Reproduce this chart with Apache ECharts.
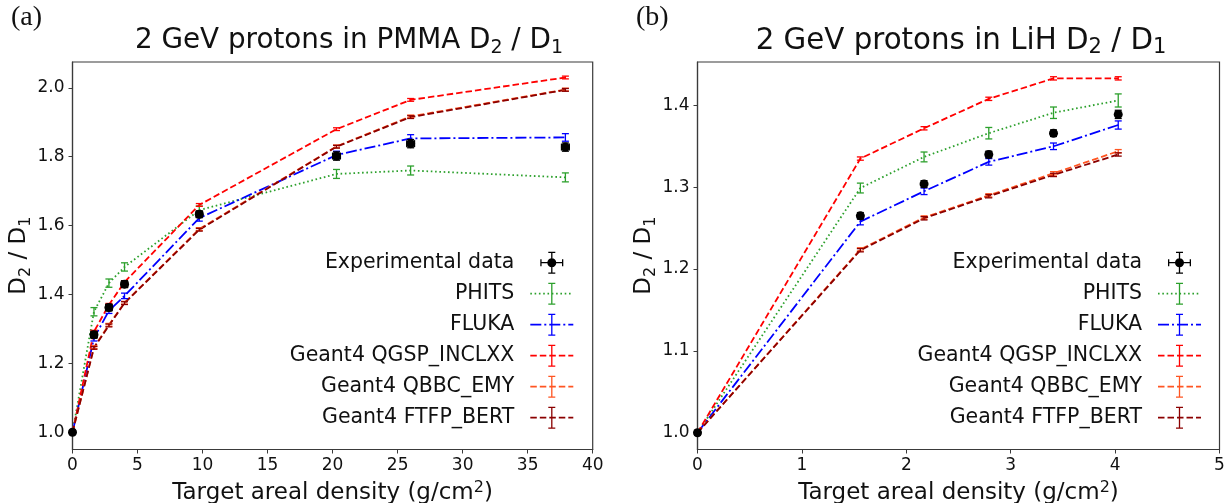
<!DOCTYPE html>
<html>
<head>
<meta charset="utf-8">
<script src="https://cdn.jsdelivr.net/npm/echarts@6/dist/echarts.min.js"></script>
<style>
  html, body { margin: 0; padding: 0; background: #fff; }
  #chart { width: 1225px; height: 503px; }
</style>
</head>
<body>
<div id="chart"></div>
<script>
// ---- Panel (a): PMMA target, D2/D1 vs areal density (g/cm^2) ----
const pmmaX        = [0, 1.65, 2.8, 4.0, 9.75, 20.3, 26.0, 37.9];
const pmmaExp      = [1.000, 1.283, 1.362, 1.430, 1.633, 1.802, 1.838, 1.828];
const pmmaExpErr   = [0.006, 0.010, 0.010, 0.010, 0.010, 0.012, 0.012, 0.012];
const pmmaExpXErr  = [0, 0.25, 0.25, 0.25, 0.25, 0.3, 0.3, 0.3];
const pmmaPhits    = [1.000, 1.350, 1.433, 1.480, 1.645, 1.750, 1.760, 1.740];
const pmmaPhitsErr = [0, 0.012, 0.012, 0.012, 0.012, 0.013, 0.013, 0.013];
const pmmaFluka    = [1.000, 1.273, 1.353, 1.396, 1.622, 1.805, 1.853, 1.856];
const pmmaFlukaErr = [0, 0.008, 0.008, 0.008, 0.009, 0.011, 0.011, 0.011];
const pmmaInclxx   = [1.000, 1.292, 1.370, 1.436, 1.660, 1.880, 1.965, 2.030];
const pmmaQbbc     = [1.000, 1.247, 1.312, 1.376, 1.590, 1.830, 1.917, 1.995];
const pmmaFtfp     = [1.000, 1.245, 1.310, 1.375, 1.588, 1.829, 1.915, 1.994];
const pmmaG4Err    = [0, 0.004, 0.004, 0.004, 0.004, 0.004, 0.004, 0.004];

// ---- Panel (b): LiH target ----
const lihX         = [0, 1.56, 2.17, 2.79, 3.41, 4.03];
const lihExp       = [1.000, 1.265, 1.304, 1.340, 1.366, 1.389];
const lihExpErr    = [0.003, 0.004, 0.004, 0.004, 0.004, 0.005];
const lihExpXErr   = [0, 0.02, 0.02, 0.02, 0.02, 0.02];
const lihPhits     = [1.000, 1.299, 1.337, 1.366, 1.391, 1.406];
const lihPhitsErr  = [0, 0.006, 0.006, 0.007, 0.007, 0.008];
const lihFluka     = [1.000, 1.258, 1.295, 1.331, 1.350, 1.376];
const lihFlukaErr  = [0, 0.004, 0.004, 0.004, 0.004, 0.005];
const lihInclxx    = [1.000, 1.335, 1.372, 1.408, 1.433, 1.433];
const lihQbbc      = [1.000, 1.224, 1.263, 1.290, 1.317, 1.344];
const lihFtfp      = [1.000, 1.223, 1.262, 1.289, 1.315, 1.340];
const lihG4Err     = [0, 0.002, 0.002, 0.002, 0.002, 0.002];

// ---- Tick labels ----
const pmmaYTicks = [1.0, 1.2, 1.4, 1.6, 1.8, 2.0];
const lihYTicks  = [1.0, 1.1, 1.2, 1.3, 1.4];

const seriesNames = ['Experimental data', 'PHITS', 'FLUKA',
  'Geant4 QGSP_INCLXX', 'Geant4 QBBC_EMY', 'Geant4 FTFP_BERT'];
const colors = ['#000000', '#2ca02c', '#0000ff', '#ff0000', '#ff5522', '#8b0000'];
const dashes = [null, [1.6, 2.7], [11, 3, 2, 3], [6.5, 3], [6.5, 3], [6.5, 3]];

const FONT = 'DejaVu Sans';
const AXIS_COLOR = '#3a3a3a';

// ---- helpers ----
const pairs = (xs, ys) => xs.map((x, i) => [x, ys[i]]);

function lineSeries(idx, name, xs, ys, k) {
  return {
    type: 'line', name, xAxisIndex: idx, yAxisIndex: idx,
    data: pairs(xs, ys), symbol: 'none', z: 2, silent: true,
    lineStyle: { color: colors[k], width: 1.8, type: dashes[k], cap: 'butt' },
    itemStyle: { color: colors[k] }
  };
}

function errorBars(idx, xs, ys, yErr, xErr, color, z) {
  return {
    type: 'custom', xAxisIndex: idx, yAxisIndex: idx, z, silent: true,
    data: xs.map((x, i) => [x, ys[i], yErr[i], xErr ? xErr[i] : 0]),
    encode: { x: 0, y: 1 },
    renderItem(params, api) {
      const x = api.value(0), y = api.value(1), ey = api.value(2), ex = api.value(3);
      const style = { stroke: color, lineWidth: 1.3 };
      const cap = 3.5;
      const kids = [];
      if (ey > 0) {
        const t = api.coord([x, y + ey]), b = api.coord([x, y - ey]);
        kids.push({ type: 'line', shape: { x1: t[0], y1: t[1], x2: b[0], y2: b[1] }, style });
        kids.push({ type: 'line', shape: { x1: t[0] - cap, y1: t[1], x2: t[0] + cap, y2: t[1] }, style });
        kids.push({ type: 'line', shape: { x1: b[0] - cap, y1: b[1], x2: b[0] + cap, y2: b[1] }, style });
      }
      if (ex > 0) {
        const l = api.coord([x - ex, y]), r = api.coord([x + ex, y]);
        kids.push({ type: 'line', shape: { x1: l[0], y1: l[1], x2: r[0], y2: r[1] }, style });
        kids.push({ type: 'line', shape: { x1: l[0], y1: l[1] - cap, x2: l[0], y2: l[1] + cap }, style });
        kids.push({ type: 'line', shape: { x1: r[0], y1: r[1] - cap, x2: r[0], y2: r[1] + cap }, style });
      }
      return { type: 'group', children: kids };
    }
  };
}

function panelSeries(idx, xs, d) {
  const out = [];
  const models = [d.phits, d.fluka, d.inclxx, d.qbbc, d.ftfp];
  const errs = [d.phitsErr, d.flukaErr, d.g4Err, d.g4Err, d.g4Err];
  models.forEach((ys, m) => {
    out.push(lineSeries(idx, seriesNames[m + 1], xs, ys, m + 1));
    out.push(errorBars(idx, xs, ys, errs[m], null, colors[m + 1], 3));
  });
  out.push(errorBars(idx, xs, d.exp, d.expErr, d.expXErr, '#000', 4));
  out.push({
    type: 'scatter', name: seriesNames[0], xAxisIndex: idx, yAxisIndex: idx,
    data: pairs(xs, d.exp), symbol: 'circle', symbolSize: 9, z: 5, silent: true,
    itemStyle: { color: '#000', opacity: 1 }
  });
  return out;
}

// ---- legend handles: line style + error bar, drawn as filled path glyphs ----
const IW = 43, IH = 22, CY = 11;
function rect(x0, y0, x1, y1) {
  return `M${x0},${y0}H${x1}V${y1}H${x0}Z`;
}
function handleIcon(pattern, withMarker) {
  let p = 'M0,0h0.01v0.01h-0.01Z M' + (IW - 0.01) + ',' + (IH - 0.01) + 'h0.01v0.01h-0.01Z ';
  const t = 0.85;
  if (pattern) {
    let x = 0, i = 0;
    while (x < IW) {
      const on = pattern[i % pattern.length], off = pattern[(i + 1) % pattern.length];
      p += rect(x, CY - t, Math.min(x + on, IW), CY + t) + ' ';
      x += on + off; i += 2;
    }
  }
  const cx = IW / 2, w = 0.65, c = 3.5;
  p += rect(cx - w, 0, cx + w, IH) + ' ';
  p += rect(cx - c, 0, cx + c, 1.3) + ' ';
  p += rect(cx - c, IH - 1.3, cx + c, IH) + ' ';
  if (withMarker) {
    const hx0 = cx - 11.5, hx1 = cx + 11.5;
    p += rect(hx0, CY - w, hx1, CY + w) + ' ';
    p += rect(hx0, CY - c, hx0 + 1.3, CY + c) + ' ';
    p += rect(hx1 - 1.3, CY - c, hx1, CY + c) + ' ';
    const r = 4.5;
    p += `M${cx - r},${CY}A${r},${r} 0 1,1 ${cx + r},${CY}A${r},${r} 0 1,1 ${cx - r},${CY}Z`;
  }
  return 'path://' + p;
}
const icons = seriesNames.map((n, k) => handleIcon(dashes[k], k === 0));

function legendFor(rightPx) {
  return {
    orient: 'vertical', align: 'right', right: rightPx, top: 251.7,
    itemWidth: IW, itemHeight: IH, itemGap: 9, padding: 0,
    selectedMode: false,
    itemStyle: { borderWidth: 0 },
    textStyle: { fontFamily: FONT, fontSize: 20.5, color: '#111', lineHeight: 22, padding: [0, 11, 0, 0] },
    data: seriesNames.map((n, k) => ({ name: n, icon: icons[k], itemStyle: { color: colors[k], borderWidth: 0 } }))
  };
}

// ---- axes ----
function xAxis(idx, max, interval) {
  return {
    type: 'value', gridIndex: idx, min: 0, max, interval,
    name: 'Target areal density (g/cm{sup|2})', nameLocation: 'middle', nameGap: 28,
    nameTextStyle: {
      fontFamily: FONT, fontSize: 23, color: '#111', lineHeight: 28,
      rich: { sup: { fontFamily: FONT, fontSize: 16, lineHeight: 14, verticalAlign: 'top', color: '#111' } }
    },
    axisLine: { show: true, lineStyle: { color: AXIS_COLOR, width: 1.2 } },
    axisTick: { show: true, inside: false, length: 4, lineStyle: { color: AXIS_COLOR, width: 1 } },
    axisLabel: { fontFamily: FONT, fontSize: 17, color: '#111', margin: 8 },
    splitLine: { show: false }
  };
}
function yAxis(idx, min, max, ticks, nameGap) {
  return {
    type: 'value', gridIndex: idx, min, max,
    name: 'D{sub|2} / D{sub|1}', nameLocation: 'middle', nameRotate: 90, nameGap,
    nameTextStyle: {
      fontFamily: FONT, fontSize: 23, color: '#111', lineHeight: 30,
      rich: { sub: { fontFamily: FONT, fontSize: 16, lineHeight: 14, verticalAlign: 'bottom', color: '#111' } }
    },
    axisLine: { show: true, lineStyle: { color: AXIS_COLOR, width: 1.2 } },
    axisTick: { show: true, inside: false, length: 4, customValues: ticks, lineStyle: { color: AXIS_COLOR, width: 1 } },
    axisLabel: { fontFamily: FONT, fontSize: 17, color: '#111', margin: 8, customValues: ticks,
                 formatter: v => Number(v).toFixed(1) },
    splitLine: { show: false }
  };
}

function titleFor(text, centerX, size) {
  return {
    text, left: centerX, textAlign: 'center', top: 24, padding: 0,
    textStyle: {
      fontFamily: FONT, fontSize: size, fontWeight: 'normal', color: '#111', lineHeight: 34,
      rich: { sub: { fontFamily: FONT, fontSize: Math.round(size * 0.7), lineHeight: 16, verticalAlign: 'bottom', color: '#111' } }
    }
  };
}
function panelTag(text, leftX) {
  return {
    text, left: leftX, top: 4, padding: 0,
    textStyle: { fontFamily: 'Liberation Serif', fontSize: 28, fontWeight: 'normal', color: '#111' }
  };
}

const grids = [
  { left: 72.5, top: 62, width: 520.2, height: 387.5 },
  { left: 697.5, top: 62, width: 522, height: 387.5 }
];

const chart = echarts.init(document.getElementById('chart'), null, { renderer: 'canvas' });
chart.setOption({
  animation: false,
  backgroundColor: '#fff',
  title: [
    panelTag('(a)', 11),
    panelTag('(b)', 636),
    titleFor('2 GeV protons in PMMA D{sub|2} / D{sub|1}', 349, 27.8),
    titleFor('2 GeV protons in LiH D{sub|2} / D{sub|1}', 961, 29.3)
  ],
  grid: grids.map(g => Object.assign({
    show: true, borderColor: AXIS_COLOR, borderWidth: 1.2, backgroundColor: 'transparent',
    containLabel: false, outerBoundsMode: 'none'
  }, g)),
  xAxis: [xAxis(0, 40, 5), xAxis(1, 5, 1)],
  yAxis: [yAxis(0, 0.95, 2.075, pmmaYTicks, 37), yAxis(1, 0.9795, 1.453, lihYTicks, 34)],
  legend: [legendFor(1225 - 573.3), legendFor(1225 - 1201)],
  series: [
    ...panelSeries(0, pmmaX, {
      exp: pmmaExp, expErr: pmmaExpErr, expXErr: pmmaExpXErr,
      phits: pmmaPhits, phitsErr: pmmaPhitsErr, fluka: pmmaFluka, flukaErr: pmmaFlukaErr,
      inclxx: pmmaInclxx, qbbc: pmmaQbbc, ftfp: pmmaFtfp, g4Err: pmmaG4Err
    }),
    ...panelSeries(1, lihX, {
      exp: lihExp, expErr: lihExpErr, expXErr: lihExpXErr,
      phits: lihPhits, phitsErr: lihPhitsErr, fluka: lihFluka, flukaErr: lihFlukaErr,
      inclxx: lihInclxx, qbbc: lihQbbc, ftfp: lihFtfp, g4Err: lihG4Err
    })
  ]
});
</script>
</body>
</html>
